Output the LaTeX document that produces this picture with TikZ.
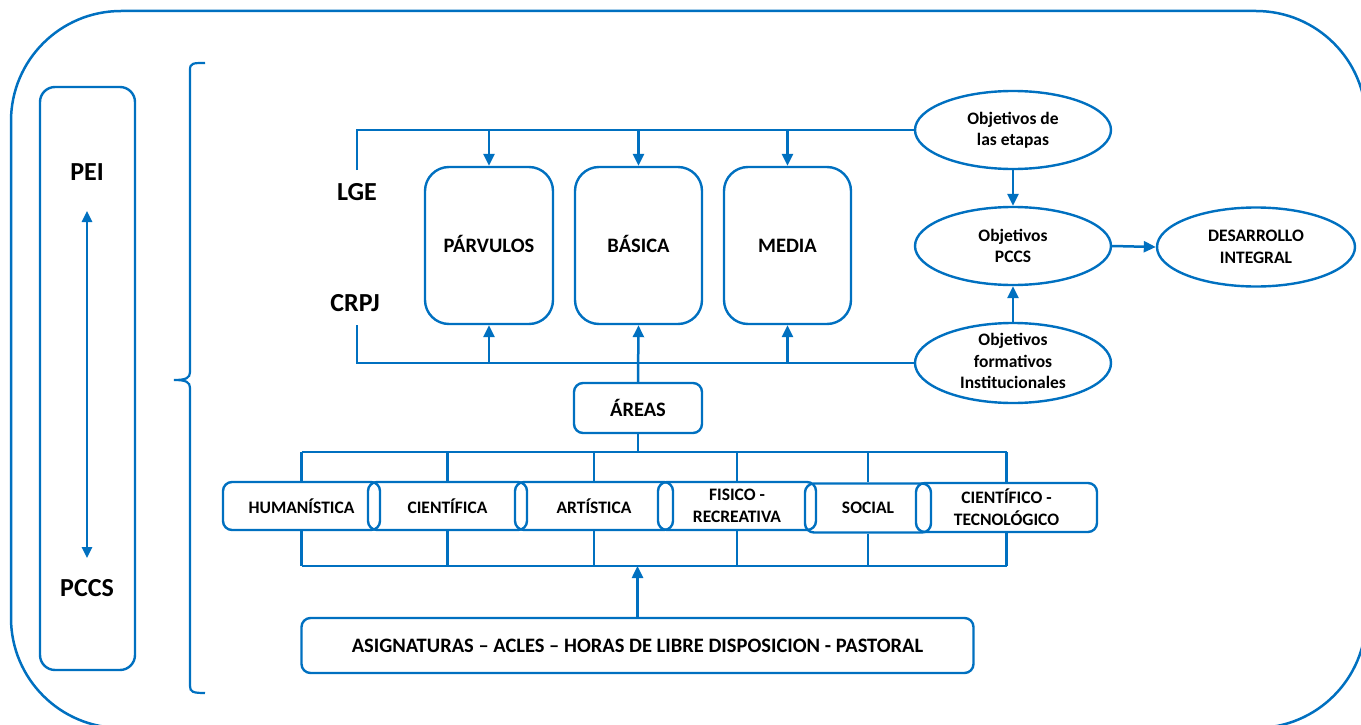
\documentclass[tikz,border=0pt]{standalone}
\usepackage{fontspec}
\setmainfont{Carlito}
\usetikzlibrary{arrows.meta,shapes.geometric}
\definecolor{bl}{RGB}{0,112,192}
\begin{document}
\begin{tikzpicture}[x=1pt,y=-1pt,
  ln/.style={draw=bl,line width=2.5pt},
  arr/.style={ln,-{Triangle[length=12pt,width=11pt]}},
  darr/.style={ln,{Triangle[length=11pt,width=10pt]}-{Triangle[length=11pt,width=10pt]}},
  bigbox/.style={draw=bl,line width=2.4pt,rounded corners=24pt,inner sep=0pt,minimum width=127pt,minimum height=157pt,text height=13pt,text depth=0pt,font=\fontsize{20.5}{24}\selectfont\bfseries},
  smallbox/.style={draw=bl,line width=2.4pt,rounded corners=9pt,inner sep=0pt,align=center,font=\fontsize{17.5}{22}\selectfont\bfseries},
  ell/.style={draw=bl,line width=2.4pt,ellipse,inner sep=0pt,minimum width=196pt,minimum height=78pt},
  etext/.style={align=center,font=\fontsize{17.5}{21.5}\selectfont\bfseries},
  big/.style={font=\fontsize{26}{30}\selectfont\bfseries}
]
\useasboundingbox (0,0) rectangle (1361,725);
\clip (0,0) rectangle (1361,725);
% outer frame
\draw[ln,rounded corners=110pt] (11,11) rectangle (1366,728);

% left box
\node[draw=bl,line width=2.4pt,rounded corners=15pt,minimum width=95pt,minimum height=583pt,inner sep=0pt] (lb) at (87.5,378.5) {};
\node[big] (pei) at (87,172) {PEI};
\node[big] (pccs) at (87,588) {PCCS};
\coordinate (da) at (87,211);
\coordinate (db) at (87,558);
\draw[darr] (da) -- (db);

% brace
\draw[ln,line width=2.2pt] (205,63) .. controls (193,63) and (190,63) .. (190,70) -- (190,372)
  .. controls (190,378) and (186,380) .. (174,380)
  .. controls (186,380) and (190,382) .. (190,388) -- (190,686)
  .. controls (190,692) and (193,693) .. (205,693);

% labels
\node[big] (lge) at (357,192) {LGE};
\node[big] (crpj) at (355,303) {CRPJ};
\coordinate (lgeA) at (357,170);
\coordinate (crpjA) at (357,325);

% level boxes
\node[bigbox,minimum width=128pt] (pv) at (489,245.5) {PÁRVULOS};
\node[bigbox] (bs) at (638.5,245.5) {BÁSICA};
\node[bigbox] (md) at (787.5,245.5) {MEDIA};

% ellipses
\node[ell] (o1) at (1013,130) {};
\node[etext] at (o1) {Objetivos de\\las etapas};
\node[ell] (o2) at (1013,246) {};
\node[etext] at (o2) {Objetivos\\PCCS};
\node[ell,minimum height=80pt] (o3) at (1013,363) {};
\node[etext] at ([yshift=2pt]o3.center) {Objetivos\\formativos\\Institucionales};
\node[ell,minimum width=198pt,minimum height=79pt] (dv) at (1256,247) {};
\node[etext] at (dv) {DESARROLLO\\INTEGRAL};

% top and bottom lines
\draw[ln] (lgeA) |- (o1.west);
\draw[ln] (crpjA) |- (o3.west);
\foreach \b in {pv,bs,md} \draw[arr] (\b.north |- o1.west) -- (\b.north);
\foreach \b in {pv,md} \draw[arr] (\b.south |- o3.west) -- (\b.south);

\draw[arr] (o1.south) -- (o2.north);
\draw[arr] (o3.north) -- (o2.south);
\draw[arr] (o2.east) -- (dv.west);

% areas
\node[smallbox,minimum width=128pt,minimum height=50pt,font=\fontsize{20.5}{24}\selectfont\bfseries] (ar) at (638,408) {ÁREAS};
\draw[arr] (ar.north) -- (bs.south);

\coordinate (tb) at (0,452);
\coordinate (bb) at (0,566);
\node[smallbox,minimum width=157pt,minimum height=48pt] (a1) at (301.5,506) {HUMANÍSTICA};
\node[smallbox,minimum width=159pt,minimum height=48pt] (a2) at (447.5,506) {CIENTÍFICA};
\node[smallbox,minimum width=158pt,minimum height=48pt] (a3) at (594,506) {ARTÍSTICA};
\node[smallbox,minimum width=158pt,minimum height=48pt] (a4) at (737,506) {FISICO -\\RECREATIVA};
\node[smallbox,minimum width=126pt,minimum height=49pt] (a5) at (868,508) {SOCIAL};
\node[smallbox,minimum width=181pt,minimum height=49pt] (a6) at (1006.5,507.5) {CIENTÍFICO -\\TECNOLÓGICO};

\draw[ln] (ar.south) -- (ar.south |- tb);
\draw[ln] (a1.north |- tb) -- (a6.north |- tb);
\draw[ln] (a1.south |- bb) -- (a6.south |- bb);
\foreach \a in {a1,a2,a3,a4,a5,a6} {
  \draw[ln] (\a.north |- tb) -- (\a.north);
  \draw[ln] (\a.south) -- (\a.south |- bb);
}

\node[smallbox,minimum width=672pt,minimum height=55pt,font=\fontsize{20.5}{24}\selectfont\bfseries] (as) at (637.5,645.5) {ASIGNATURAS – ACLES – HORAS DE LIBRE DISPOSICION - PASTORAL};
\draw[arr] (as.north) -- (as.north |- bb);
\end{tikzpicture}
\end{document}
